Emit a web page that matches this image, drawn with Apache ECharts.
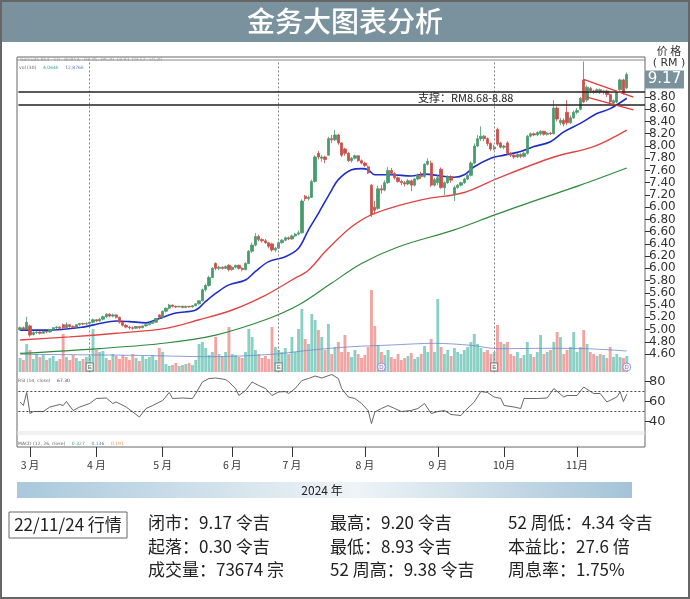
<!DOCTYPE html>
<html><head><meta charset="utf-8">
<script src="https://cdn.jsdelivr.net/npm/echarts@6/dist/echarts.min.js"></script>
<style>html,body{margin:0;padding:0;background:#fff}#c{width:690px;height:599px}</style>
</head><body><div id="c"></div><script>
const dates = ['02-27','02-28','02-29',
'03-01','03-04','03-05','03-06','03-07','03-08','03-11','03-12','03-13','03-14','03-15','03-18','03-19','03-20','03-21','03-22','03-25','03-26','03-27','03-29',
'04-01','04-02','04-03','04-04','04-05','04-08','04-09','04-12','04-15','04-16','04-17','04-18','04-19','04-22','04-23','04-24','04-25','04-26','04-29','04-30',
'05-02','05-03','05-06','05-07','05-08','05-09','05-10','05-13','05-14','05-15','05-16','05-17','05-20','05-21','05-23','05-24','05-27','05-28','05-29','05-30','05-31',
'06-04','06-05','06-06','06-07','06-10','06-11','06-12','06-13','06-14','06-18','06-19','06-20','06-21','06-24','06-25','06-26','06-27','06-28',
'07-01','07-02','07-03','07-04','07-05','07-09','07-10','07-11','07-12','07-15','07-16','07-17','07-18','07-19','07-22','07-23','07-24','07-25','07-26','07-29','07-30','07-31',
'08-01','08-02','08-05','08-06','08-07','08-08','08-09','08-12','08-13','08-14','08-15','08-16','08-19','08-20','08-21','08-22','08-23','08-26','08-27','08-28','08-29','08-30',
'09-02','09-03','09-04','09-05','09-06','09-09','09-10','09-11','09-12','09-13','09-17','09-18','09-19','09-20','09-23','09-24','09-25','09-26','09-27','09-30',
'10-01','10-02','10-03','10-04','10-07','10-08','10-09','10-10','10-11','10-14','10-15','10-16','10-17','10-18','10-21','10-22','10-23','10-24','10-25','10-28','10-29','10-30',
'11-01','11-04','11-05','11-06','11-07','11-08','11-11','11-12','11-13','11-14','11-15','11-18','11-19','11-20','11-21','11-22'];

const opens = [5.00,5.03,5.01,5.06,4.92,4.95,4.96,4.94,4.97,4.96,5.00,5.03,5.04,5.08,5.03,5.08,5.05,5.04,5.08,5.10,5.09,5.10,5.12,5.16,5.14,5.17,5.21,5.25,5.22,5.24,
5.20,5.12,5.07,5.04,5.03,5.02,5.05,5.03,5.06,5.08,5.10,5.12,5.24,5.20,5.30,5.35,5.40,5.38,5.37,5.38,5.36,5.38,5.37,5.39,5.42,5.47,5.65,5.72,5.85,6.08,
6.00,6.02,6.00,6.05,5.98,6.02,6.05,6.00,5.98,6.08,6.28,6.38,6.52,6.47,6.45,6.42,6.40,6.30,6.33,6.42,6.46,6.50,6.48,6.53,6.56,6.58,7.18,7.14,7.16,7.42,
7.88,7.80,7.82,7.85,8.12,8.10,8.18,8.05,7.95,7.88,7.76,7.80,7.84,7.76,7.72,7.66,7.36,7.00,6.98,7.30,7.28,7.40,7.60,7.55,7.48,7.42,7.40,7.38,7.43,7.36,
7.46,7.52,7.50,7.70,7.72,7.36,7.40,7.62,7.32,7.40,7.50,7.20,7.32,7.36,7.40,7.46,7.52,7.72,8.00,8.12,8.16,8.12,8.04,7.95,8.27,8.05,7.98,8.05,7.88,7.85,
7.82,7.86,7.83,7.88,8.16,8.20,8.18,8.20,8.24,8.19,8.21,8.20,8.62,8.38,8.42,8.55,8.38,8.46,8.55,8.60,9.08,8.75,8.94,8.90,8.88,8.92,8.88,8.90,8.84,8.70,
8.72,8.92,9.08,8.95];
const closes = [5.03,5.01,5.12,4.91,4.95,4.96,4.94,4.97,4.96,5.00,5.03,5.04,5.02,5.03,5.08,5.05,5.04,5.08,5.10,5.09,5.10,5.12,5.16,5.14,5.17,5.21,5.25,5.22,5.24,5.20,
5.12,5.07,5.04,5.03,5.02,5.05,5.03,5.06,5.08,5.10,5.12,5.18,5.20,5.30,5.35,5.40,5.38,5.37,5.38,5.36,5.38,5.37,5.39,5.42,5.47,5.65,5.72,5.85,6.00,6.00,
6.02,6.00,6.03,5.98,6.02,6.05,6.00,5.98,6.08,6.28,6.38,6.52,6.47,6.45,6.42,6.36,6.30,6.33,6.42,6.46,6.50,6.48,6.53,6.56,6.58,7.10,7.14,7.16,7.42,7.82,
7.82,7.82,7.78,8.12,8.10,8.18,8.05,7.85,7.88,7.76,7.80,7.84,7.76,7.72,7.68,7.56,6.88,6.95,7.30,7.28,7.40,7.60,7.55,7.48,7.42,7.40,7.38,7.43,7.36,7.46,
7.52,7.50,7.70,7.75,7.36,7.45,7.48,7.32,7.40,7.50,7.44,7.32,7.36,7.40,7.46,7.52,7.72,8.00,8.12,8.16,8.12,8.04,7.95,7.98,8.03,7.98,8.00,7.88,7.85,7.82,
7.86,7.83,7.88,8.16,8.20,8.18,8.22,8.24,8.19,8.21,8.20,8.62,8.44,8.42,8.36,8.38,8.46,8.55,8.58,8.78,8.72,8.96,8.90,8.88,8.92,8.88,8.90,8.84,8.72,8.74,
8.88,9.08,8.87,9.17];
const lows = [4.98,4.99,5.00,4.88,4.90,4.93,4.92,4.93,4.94,4.95,4.99,5.01,5.00,5.01,5.02,5.03,5.02,5.03,5.06,5.07,5.07,5.08,5.10,5.12,5.13,5.15,5.19,5.20,5.20,5.18,
5.10,5.05,5.02,5.00,5.00,5.01,5.01,5.02,5.05,5.07,5.09,5.11,5.17,5.19,5.28,5.33,5.36,5.35,5.36,5.35,5.35,5.36,5.36,5.38,5.41,5.46,5.62,5.70,5.84,5.97,
5.97,5.98,5.99,5.95,5.96,6.00,5.98,5.95,5.97,6.07,6.25,6.36,6.44,6.42,6.40,6.33,6.27,6.27,6.32,6.40,6.44,6.46,6.47,6.51,6.54,6.57,7.10,7.11,7.15,7.40,
7.78,7.74,7.72,7.84,8.05,8.08,8.02,7.82,7.84,7.74,7.73,7.78,7.74,7.70,7.65,7.54,6.84,6.88,6.96,7.22,7.26,7.38,7.52,7.45,7.40,7.36,7.34,7.36,7.26,7.34,
7.44,7.46,7.48,7.68,7.33,7.34,7.36,7.30,7.20,7.38,7.40,7.10,7.30,7.34,7.38,7.44,7.50,7.70,7.98,8.08,8.08,8.00,7.92,7.93,8.00,7.96,7.95,7.85,7.82,7.79,
7.80,7.80,7.81,7.86,8.14,8.16,8.16,8.17,8.17,8.17,8.18,8.19,8.40,8.34,8.32,8.34,8.36,8.44,8.52,8.58,8.70,8.72,8.86,8.85,8.86,8.85,8.84,8.80,8.70,8.66,
8.70,8.90,8.84,8.93];
const highs = [5.05,5.05,5.21,5.08,4.97,4.98,4.97,4.98,4.98,5.01,5.04,5.06,5.05,5.10,5.12,5.09,5.07,5.09,5.11,5.11,5.12,5.13,5.18,5.17,5.19,5.23,5.27,5.27,5.26,5.25,
5.21,5.13,5.09,5.06,5.05,5.06,5.06,5.07,5.09,5.12,5.14,5.19,5.25,5.31,5.36,5.42,5.41,5.39,5.39,5.39,5.39,5.38,5.40,5.43,5.48,5.67,5.75,5.88,6.02,6.10,
6.04,6.03,6.05,6.07,6.04,6.06,6.06,6.02,6.10,6.30,6.42,6.58,6.55,6.49,6.48,6.43,6.42,6.35,6.44,6.48,6.52,6.52,6.55,6.58,6.62,7.13,7.20,7.19,7.45,7.85,
7.92,7.85,7.84,8.15,8.18,8.26,8.20,8.06,7.97,7.90,7.82,7.86,7.85,7.78,7.74,7.68,7.38,7.10,7.35,7.36,7.44,7.66,7.64,7.57,7.50,7.45,7.43,7.46,7.45,7.48,
7.55,7.58,7.72,7.80,7.76,7.48,7.52,7.65,7.42,7.52,7.52,7.35,7.38,7.42,7.48,7.55,7.75,8.04,8.18,8.32,8.18,8.14,8.06,8.02,8.30,8.07,8.02,8.08,7.90,7.87,
7.88,7.88,7.90,8.18,8.22,8.22,8.24,8.26,8.25,8.23,8.23,8.75,8.65,8.46,8.45,8.75,8.50,8.58,8.62,8.80,9.38,8.99,8.97,8.92,8.94,8.94,8.92,8.92,8.86,8.76,
8.90,9.10,9.10,9.20];
const volumes = [14,12,28,22,13,18,15,17,12,14,16,11,13,38,15,12,17,14,11,13,15,16,43,22,20,21,14,12,18,16,
13,17,15,12,18,14,11,16,13,15,17,12,24,20,8,6,7,9,6,7,8,9,7,12,28,30,24,17,20,35,
18,16,20,45,18,17,15,14,20,43,35,22,18,14,16,13,45,25,22,20,24,18,35,20,43,63,33,28,58,52,
42,35,22,48,18,25,30,20,37,20,15,22,18,14,17,25,82,46,27,20,17,22,15,13,18,12,14,16,19,13,
15,18,26,20,33,20,73,25,18,22,16,24,20,18,22,25,30,38,28,24,20,22,18,20,47,30,28,30,18,16,
20,14,17,30,18,15,20,37,18,20,22,30,40,35,18,22,25,40,20,25,42,28,20,18,16,18,17,14,25,15,
18,15,14,16];
const volMaIdx = [0,34,58,76,88,100,112,125,136,144,159,171,183];
const volMaVal = [17.7,16.7,15.3,17.7,22,25.3,27,28.7,26.7,23.3,23.7,23.3,21];
const ma20Idx = [0,8,19,24,29,33,38,42,47,53,56,59,63,68,71,75,80,84,87,90,94,96,100,103,105,107,112,118,122,127,131,134,137,142,146,151,155,160,164,169,174,178,183];
const ma20Val = [4.99,4.99,5.04,5.10,5.14,5.13,5.11,5.18,5.27,5.32,5.46,5.59,5.73,5.81,5.95,6.11,6.19,6.33,6.63,6.90,7.28,7.45,7.61,7.63,7.61,7.53,7.53,7.51,7.54,7.51,7.49,7.53,7.66,7.80,7.85,7.91,7.99,8.07,8.23,8.37,8.53,8.61,8.78];
const ma50Idx = [0,15,29,44,54,64,74,82,87,92,100,107,121,134,144,161,173,183];
const ma50Val = [4.83,4.88,4.94,5.02,5.16,5.32,5.56,5.81,5.97,6.27,6.68,6.90,7.12,7.24,7.47,7.82,7.99,8.26];
const ma100Idx = [0,24,44,59,74,84,94,103,114,131,143,156,169,183];
const ma100Val = [4.61,4.69,4.78,4.91,5.16,5.40,5.76,6.08,6.35,6.63,6.87,7.12,7.36,7.64];
const rsiIdx = [0,1,2,3,4,7,9,12,13,14,16,18,21,23,26,28,29,32,34,36,38,40,43,45,46,49,52,53,55,57,59,62,63,65,66,68,70,72,74,76,78,80,81,83,85,87,89,91,94,96,97,99,101,103,105,106,107,109,111,113,115,118,120,122,124,126,128,130,133,134,137,139,141,143,145,146,149,151,152,156,159,161,164,165,168,170,173,175,177,180,181,182,183];
const rsiVal = [59.5,56,69,48,50,50,54.5,57,56,60,51,54.5,58,63,63.5,58,59.5,54.5,49.5,44.5,53,56,61,69,63,63.5,63,68,79.5,83,83.5,82,79.5,73,66,71,79.5,76,73,66,69.5,70,68,73,81,83,85.5,83.5,87,83,73,64.5,63,58,51,38,49.5,53,56,53,50,51,53,58,48,50,51,47,46,50,59.5,70,69,64.5,63,56,54.5,53,63,63,63.5,73,64.5,66,66,74.5,68,68,59.5,64.5,69.5,60,67.3];
const priceTickVals = [4.6,4.8,5.0,5.2,5.4,5.6,5.8,6.0,6.2,6.4,6.6,6.8,7.0,7.2,7.4,7.6,7.8,8.0,8.2,8.4,8.6,8.8];
const priceTickLabels = ['4.60','4.80','5.00','5.20','5.40','5.60','5.80','6.00','6.20','6.40','6.60','6.80','6.00','7.20','7.40','7.60','7.80','8.00','8.20','8.40','8.60','8.80'];
const rsiTickVals = [40,60,80];
const rsiGuides = [70,50];
const monthLabels = {'03':'3 月','04':'4 月','05':'5 月','06':'6 月','07':'7 月','08':'8 月','09':'9 月','10':'10月','11':'11月'};
const earningsIdx = [21,78,143];
const dividendIdx = [109,183];
const supportLow = 8.68, supportHigh = 8.88;
const triUpper = [[170,9.09],[185,8.80]];
const triLower = [[171,8.80],[185,8.59]];
const lastClose = '9.17';
const infoRows = [['闭市：9.17 令吉','起落：0.30 令吉','成交量：73674 宗'],['最高：9.20 令吉','最低：8.93 令吉','52 周高：9.38 令吉'],['52 周低：4.34 令吉','本益比：27.6 倍','周息率：1.75%']];

const axisCats = dates.concat(['b1','b2','b3','b4','b5']);
const isMonthStart = (i) => i > 0 && i < dates.length && dates[i].slice(0,2) !== dates[i-1].slice(0,2);
const UP = '#4b9a6e', DOWN = '#c9504b', VUP = '#8ad0c4', VDOWN = '#f2a4a4';
const GL = 18.4, GW = 626.6;
const FONT = 'DejaVu Sans';
const CJK = '"Noto Sans CJK SC", sans-serif';

const chart = echarts.init(document.getElementById('c'), null, {renderer:'canvas'});
const hidX = (g) => ({type:'category', gridIndex:g, data:axisCats, boundaryGap:true, axisLine:{show:false}, axisTick:{show:false}, axisLabel:{show:false}, splitLine:{show:false}});
const option = {
  animation:false,
  backgroundColor:'#fff',
  grid:[
    {left:17, top:57, width:628, height:390, show:true, borderColor:'#666', borderWidth:1, backgroundColor:'transparent'},
    {left:GL, top:60.3, width:GW, height:312.1},
    {left:GL, top:285, width:GW, height:87},
    {left:GL, top:372, width:GW, height:75}
  ],
  xAxis:[
    {type:'value', gridIndex:0, show:false, min:0, max:1},
    hidX(1), hidX(2),
    {type:'category', gridIndex:3, data:axisCats, boundaryGap:true, position:'bottom',
     axisLine:{show:false},
     axisTick:{show:true, alignWithLabel:true, interval:(i)=>isMonthStart(i), length:10, lineStyle:{color:'#333'}},
     axisLabel:{show:true, interval:(i)=>isMonthStart(i), margin:13, fontSize:10.5, color:'#333', fontFamily:CJK,
       formatter:(v)=>monthLabels[v.slice(0,2)]||''}}
  ],
  yAxis:[
    {type:'value', gridIndex:0, show:false, min:0, max:1},
    {type:'value', gridIndex:1, position:'right', min:4.3, max:9.4, splitLine:{show:false}, axisLine:{show:false},
     axisTick:{show:true, customValues:priceTickVals, length:5, lineStyle:{color:'#333'}},
     axisLabel:{show:true, customValues:priceTickVals, margin:4, fontSize:12, lineHeight:12, hideOverlap:false,
       showMinLabel:true, showMaxLabel:true, fontFamily:FONT, color:'#333',
       formatter:(v)=>{const k=priceTickVals.findIndex(t=>Math.abs(t-v)<1e-6); return k>=0?priceTickLabels[k]:'';}}},
    {type:'value', gridIndex:2, show:false, min:0, max:87},
    {type:'value', gridIndex:3, position:'right', min:14.5, max:89.5, splitLine:{show:false}, axisLine:{show:false},
     axisTick:{show:true, customValues:rsiTickVals, length:5, lineStyle:{color:'#333'}},
     axisLabel:{show:true, customValues:rsiTickVals, margin:4, fontSize:13, hideOverlap:false, showMinLabel:true, showMaxLabel:true, fontFamily:FONT, color:'#333'}}
  ],
  series:[
    {type:'bar', xAxisIndex:2, yAxisIndex:2, data:volumes, barWidth:2.9,
     itemStyle:{color:(p)=>closes[p.dataIndex]>=opens[p.dataIndex]?VUP:VDOWN}, z:1},
    {type:'line', xAxisIndex:2, yAxisIndex:2, data:volMaIdx.map((x,i)=>[x,volMaVal[i]]), showSymbol:false, smooth:0.3,
     lineStyle:{color:'#7088c8', width:0.8}, z:2},
    {type:'scatter', xAxisIndex:2, yAxisIndex:2, data:earningsIdx.map(i=>[i,5]), symbol:'rect', symbolSize:[7,8],
     itemStyle:{color:'#fff', borderColor:'#666', borderWidth:1},
     label:{show:true, position:'inside', formatter:'E', fontSize:6, color:'#444'}, z:5},
    {type:'scatter', xAxisIndex:2, yAxisIndex:2, data:dividendIdx.map(i=>[i,5]), symbol:'circle', symbolSize:8,
     itemStyle:{color:'#fff', borderColor:'#8a7ad8', borderWidth:1},
     label:{show:true, position:'inside', formatter:'D', fontSize:6, color:'#6a5ac8'}, z:5},
    {type:'line', xAxisIndex:1, yAxisIndex:1, data:ma100Idx.map((x,i)=>[x,ma100Val[i]]), showSymbol:false, smooth:0.35,
     lineStyle:{color:'#2f8a3c', width:1.2}, z:3},
    {type:'line', xAxisIndex:1, yAxisIndex:1, data:ma50Idx.map((x,i)=>[x,ma50Val[i]]), showSymbol:false, smooth:0.35,
     lineStyle:{color:'#e04444', width:1.4}, z:3},
    {type:'line', xAxisIndex:1, yAxisIndex:1, data:ma20Idx.map((x,i)=>[x,ma20Val[i]]), showSymbol:false, smooth:0.35,
     lineStyle:{color:'#1f2fc4', width:1.6}, z:3},
    {type:'candlestick', xAxisIndex:1, yAxisIndex:1, barWidth:2.8,
     data:dates.map((d,i)=>[opens[i],closes[i],lows[i],highs[i]]),
     itemStyle:{color:UP, color0:DOWN, borderColor:UP, borderColor0:DOWN, borderWidth:0.8}, z:4,
     markLine:{silent:true, symbol:'none', animation:false, label:{show:false},
       data:[
         ...earningsIdx.map(i=>({xAxis:i, lineStyle:{color:'#888', type:[2,2], width:1}})),
         {yAxis:supportHigh, lineStyle:{color:'#222', type:'solid', width:1.5}},
         {yAxis:supportLow, lineStyle:{color:'#222', type:'solid', width:1.5}},
         [{coord:triUpper[0], lineStyle:{color:'#e03a3a', type:'solid', width:1.3}},{coord:triUpper[1]}],
         [{coord:triLower[0], lineStyle:{color:'#e03a3a', type:'solid', width:1.3}},{coord:triLower[1]}]
       ]}},
    {type:'line', xAxisIndex:3, yAxisIndex:3, data:rsiIdx.map((x,i)=>[x,rsiVal[i]]), showSymbol:false,
     lineStyle:{color:'#555', width:0.9}, z:3,
     markLine:{silent:true, symbol:'none', label:{show:false},
       data:rsiGuides.map(v=>({yAxis:v, lineStyle:{color:'#444', type:[2,2], width:1}}))}}
  ],
  graphic:[
    {type:'rect', shape:{x:0,y:0,width:690,height:42}, style:{fill:'#7a929d'}, z:10},
    {type:'text', x:345, y:21, style:{text:'金务大图表分析', fill:'#fff', font:'500 28px '+CJK, align:'center', verticalAlign:'middle'}, z:11},
    {type:'rect', shape:{x:1,y:1,width:688,height:597}, style:{fill:'none', stroke:'#666', lineWidth:2}, z:10},
    {type:'line', shape:{x1:17,y1:60,x2:645,y2:60}, style:{stroke:'#888', lineWidth:1}, z:10},
    {type:'rect', shape:{x:17.5,y:431,width:627,height:4}, style:{fill:'#f0f0f0'}, z:0},
    {type:'text', x:20, y:57.5, style:{text:'Gamuda Bhd · 1D · BURSA   O8.95  H9.20  L8.93  C9.17  +0.30', fill:'#999', font:'4.5px '+FONT}, z:11},
    {type:'text', x:19, y:62, style:{rich:{a:{fill:'#666',font:'4.5px '+FONT},b:{fill:'#3aa58a',font:'4.5px '+FONT},c:{fill:'#5a78c8',font:'4.5px '+FONT}}, text:'{a|vol (30)}  {b|4,064k}  {c|12,876k}'}, z:11},
    {type:'text', x:18, y:375, style:{rich:{a:{fill:'#666',font:'4.5px '+FONT},b:{fill:'#444',font:'4.5px '+FONT}}, text:'{a|RSI (14, close)}  {b|67.30}'}, z:11},
    {type:'text', x:18, y:438, style:{rich:{a:{fill:'#666',font:'4.5px '+FONT},b:{fill:'#3aa58a',font:'4.5px '+FONT},c:{fill:'#5a78c8',font:'4.5px '+FONT},d:{fill:'#e8904a',font:'4.5px '+FONT}}, text:'{a|MACD (12, 26, close)}  {b|0.327}  {c|0.136}  {d|0.191}'}, z:11},
    {type:'text', x:669, y:51, style:{text:'价 格', fill:'#333', font:'11px '+CJK, align:'center', verticalAlign:'middle'}, z:11},
    {type:'text', x:669, y:63, style:{text:'( RM )', fill:'#333', font:'11px '+FONT, align:'center', verticalAlign:'middle'}, z:11},
    {type:'rect', shape:{x:645,y:70.5,width:39,height:18}, style:{fill:'#7a929d'}, z:10},
    {type:'text', x:664.5, y:79.5, style:{text:lastClose, fill:'#fff', font:'15px '+FONT, align:'center', verticalAlign:'middle'}, z:11},
    {type:'text', x:418, y:98, style:{text:'支撑：RM8.68-8.88', fill:'#222', font:'11px '+CJK, verticalAlign:'middle'}, z:11},
    {type:'rect', shape:{x:17,y:482,width:615,height:16}, style:{fill:new echarts.graphic.LinearGradient(0,0,1,0,[{offset:0,color:'#a9c8dc'},{offset:0.55,color:'#eef4f7'},{offset:1,color:'#a4c3d8'}])}, z:10},
    {type:'text', x:322, y:490, style:{text:'2024 年', fill:'#222', font:'12px '+CJK, align:'center', verticalAlign:'middle'}, z:11},
    {type:'rect', shape:{x:9,y:512,width:118,height:26}, style:{fill:'#fff', stroke:'#666', lineWidth:1}, z:10},
    {type:'text', x:68, y:525, style:{text:'22/11/24 行情', fill:'#222', font:'17px '+CJK, align:'center', verticalAlign:'middle'}, z:11},
    ...infoRows.flatMap((col,ci)=>col.map((t,ri)=>({type:'text', x:[148,330,508][ci], y:523+ri*23.5,
      style:{text:t, fill:'#222', font:'17px '+CJK, verticalAlign:'middle'}, z:11})))
  ]
};
chart.setOption(option);
</script></body></html>
